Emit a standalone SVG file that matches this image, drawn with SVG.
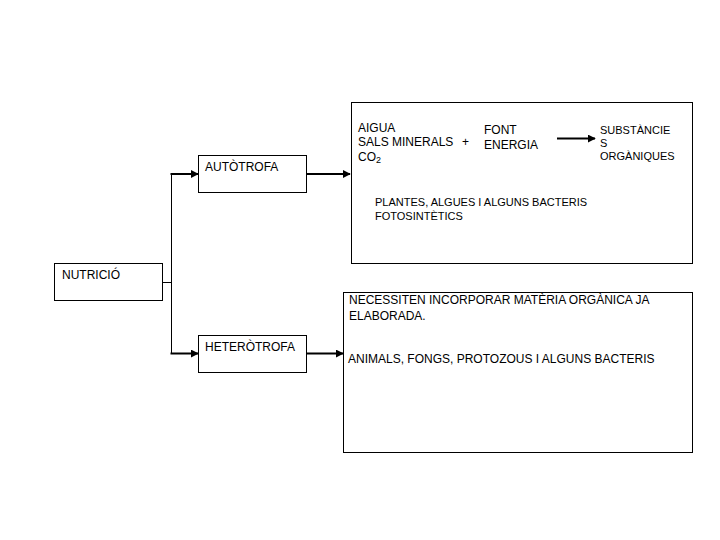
<svg xmlns="http://www.w3.org/2000/svg" width="720" height="540" viewBox="0 0 720 540">
<style>
.box{fill:#fff;stroke:#000;stroke-width:1}
.t{font-family:"Liberation Sans",Arial,sans-serif;font-size:12px;fill:#000}
.s{font-size:11px}
.ln{fill:none;stroke:#000;stroke-width:1}
.ar{fill:none;stroke:#000;stroke-width:2;marker-end:url(#ah)}
</style>
<defs>
<marker id="ah" viewBox="0 0 10 10" refX="9" refY="5" markerWidth="4" markerHeight="4" orient="auto" markerUnits="strokeWidth">
<path d="M0,0 L10,5 L0,10 Z" fill="#000"/>
</marker>
</defs>
<rect width="720" height="540" fill="#fff"/>
<g id="nutricio">
<rect class="box" x="54.5" y="263.5" width="108" height="37"/>
<text class="t" x="62" y="279">NUTRICIÓ</text>
</g>
<g id="autotrofa">
<rect class="box" x="198.5" y="155.5" width="108" height="37"/>
<text class="t" x="205" y="171">AUTÒTROFA</text>
</g>
<g id="heterotrofa">
<rect class="box" x="198.5" y="335.5" width="108" height="37"/>
<text class="t" x="205" y="351">HETERÒTROFA</text>
</g>
<g id="autotrofa-info">
<rect class="box" x="351.5" y="102.5" width="341" height="161"/>
<text class="t" x="358" y="132">AIGUA</text>
<text class="t" x="358" y="146">SALS MINERALS</text>
<text class="t" x="462" y="146">+</text>
<text class="t" x="358" y="161">CO<tspan font-size="9" dy="2">2</tspan></text>
<text class="t" x="484" y="134">FONT</text>
<text class="t" x="484" y="149">ENERGIA</text>
<text class="t s" x="600" y="134">SUBSTÀNCIE</text>
<text class="t s" x="600" y="147">S</text>
<text class="t s" x="600" y="160">ORGÀNIQUES</text>
<text class="t s" x="375" y="206">PLANTES, ALGUES I ALGUNS BACTERIS</text>
<text class="t s" x="375" y="220">FOTOSINTÈTICS</text>
</g>
<g id="heterotrofa-info">
<rect class="box" x="343.5" y="292.5" width="349" height="160"/>
<text class="t" x="349" y="304">NECESSITEN INCORPORAR MATÈRIA ORGÀNICA JA</text>
<text class="t" x="349" y="320">ELABORADA.</text>
<text class="t" x="348" y="363">ANIMALS, FONGS, PROTOZOUS I ALGUNS BACTERIS</text>
</g>
<g id="connectors">
<path class="ln" d="M162,282.5 H171.5 M171.5,174 V354"/>
<path class="ar" d="M170.5,174 H198"/>
<path class="ar" d="M170.5,353.5 H198"/>
<path class="ar" d="M306,174 H350"/>
<path class="ar" d="M306,353.5 H343"/>
<path class="ar" d="M557,138.5 H595"/>
</g>
</svg>
